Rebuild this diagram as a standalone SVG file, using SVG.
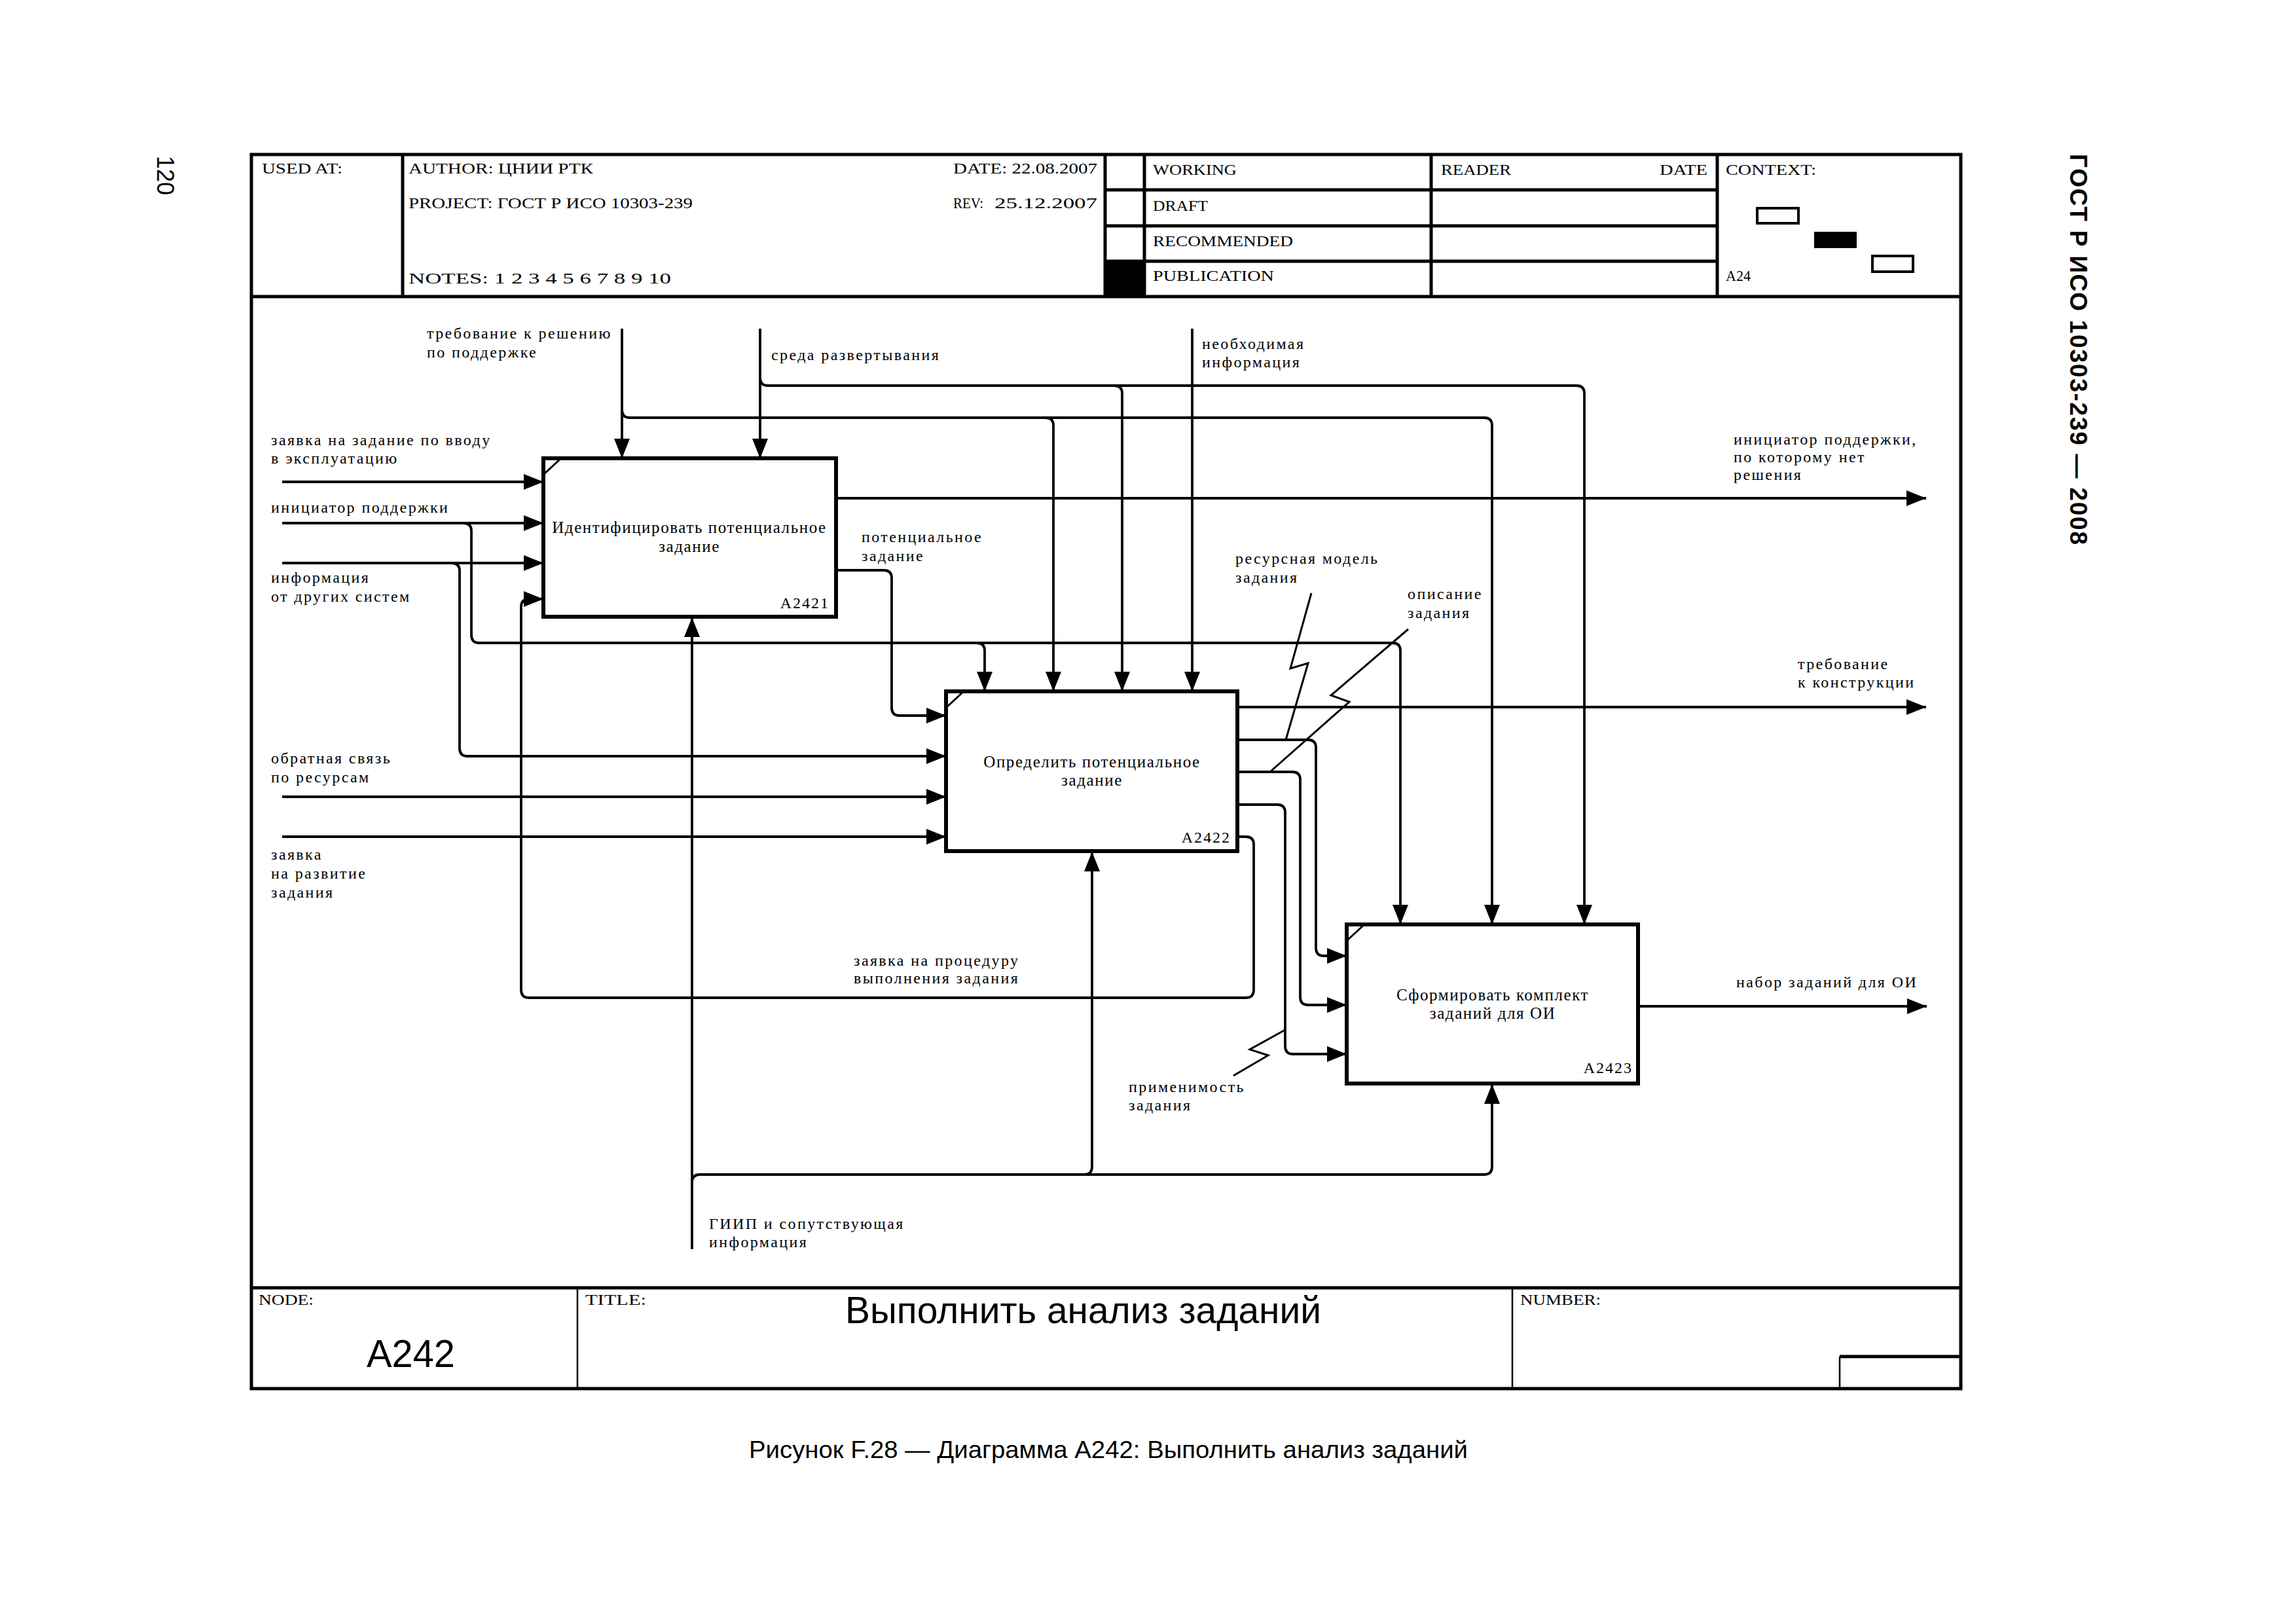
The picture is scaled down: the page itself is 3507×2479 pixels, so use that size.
<svg xmlns="http://www.w3.org/2000/svg" width="3507" height="2479" viewBox="0 0 3507 2479">
<style>
.hdr{font-family:"Liberation Serif",serif;font-size:24px;fill:#000}
.lbl{font-family:"Liberation Serif",serif;font-size:24px;letter-spacing:2.4px;fill:#000}
.bt{font-family:"Liberation Serif",serif;font-size:25px;letter-spacing:1.6px;fill:#000;text-anchor:middle}
.num{font-family:"Liberation Serif",serif;font-size:24px;letter-spacing:2px;fill:#000;text-anchor:end}
.sans{font-family:"Liberation Sans",Arial,sans-serif;fill:#000}
.frame{fill:none;stroke:#000;stroke-width:5}
.thin{fill:none;stroke:#000;stroke-width:2.5}
.box{fill:#fff;stroke:#000;stroke-width:6}
.tick{stroke:#000;stroke-width:3;fill:none}
.conn{fill:none;stroke:#000;stroke-width:3.8}
.bolt{fill:none;stroke:#000;stroke-width:3;stroke-linejoin:miter}
</style>
<defs>
<marker id="ah" markerUnits="userSpaceOnUse" markerWidth="30" markerHeight="24" refX="30" refY="12" orient="auto">
<path d="M0,0 L30,12 L0,24 z" fill="#000"/>
</marker>
</defs>
<rect x="0" y="0" width="3507" height="2479" fill="#fff"/>

<!-- side texts -->
<text class="sans" font-size="36" transform="translate(240,238) rotate(90)">120</text>
<text class="sans" font-size="37" font-weight="bold" textLength="597" transform="translate(3162,235) rotate(90)">ГОСТ Р ИСО 10303-239 — 2008</text>

<!-- frame and header -->
<g id="frame">
<rect class="frame" x="384" y="236" width="2611" height="1885"/>
<line class="frame" x1="384" y1="453" x2="2995" y2="453"/>
<line class="frame" x1="615" y1="236" x2="615" y2="453"/>
<line class="frame" x1="1688" y1="236" x2="1688" y2="453"/>
<line class="frame" x1="1748" y1="236" x2="1748" y2="453"/>
<line class="frame" x1="2186" y1="236" x2="2186" y2="453"/>
<line class="frame" x1="2623" y1="236" x2="2623" y2="453"/>
<line class="frame" x1="1688" y1="290" x2="2623" y2="290"/>
<line class="frame" x1="1688" y1="345" x2="2623" y2="345"/>
<line class="frame" x1="1688" y1="399" x2="2623" y2="399"/>
<rect x="1688" y="399" width="60" height="54" fill="#000"/>
<rect x="2684" y="318" width="63" height="23" fill="#fff" stroke="#000" stroke-width="4"/>
<rect x="2771" y="354" width="65" height="25" fill="#000"/>
<rect x="2860" y="391" width="62" height="24" fill="#fff" stroke="#000" stroke-width="4"/>
<text class="hdr" x="400" y="265" textLength="123" lengthAdjust="spacingAndGlyphs">USED AT:</text>
<text class="hdr" x="624" y="265" textLength="282" lengthAdjust="spacingAndGlyphs">AUTHOR: ЦНИИ РТК</text>
<text class="hdr" x="1456" y="265" textLength="220" lengthAdjust="spacingAndGlyphs">DATE: 22.08.2007</text>
<text class="hdr" x="624" y="318" textLength="434" lengthAdjust="spacingAndGlyphs">PROJECT: ГОСТ Р ИСО 10303-239</text>
<text class="hdr" x="1456" y="318" textLength="46" lengthAdjust="spacingAndGlyphs">REV:</text>
<text class="hdr" x="1519" y="318" textLength="157" lengthAdjust="spacingAndGlyphs">25.12.2007</text>
<text class="hdr" x="624" y="433" textLength="401" lengthAdjust="spacingAndGlyphs">NOTES: 1 2 3 4 5 6 7 8 9 10</text>
<text class="hdr" x="1761" y="267" textLength="128" lengthAdjust="spacingAndGlyphs">WORKING</text>
<text class="hdr" x="1761" y="322" textLength="84" lengthAdjust="spacingAndGlyphs">DRAFT</text>
<text class="hdr" x="1761" y="376" textLength="214" lengthAdjust="spacingAndGlyphs">RECOMMENDED</text>
<text class="hdr" x="1761" y="429" textLength="185" lengthAdjust="spacingAndGlyphs">PUBLICATION</text>
<text class="hdr" x="2201" y="267" textLength="107" lengthAdjust="spacingAndGlyphs">READER</text>
<text class="hdr" x="2535" y="267" textLength="73" lengthAdjust="spacingAndGlyphs">DATE</text>
<text class="hdr" x="2636" y="267" textLength="138" lengthAdjust="spacingAndGlyphs">CONTEXT:</text>
<text class="hdr" x="2636" y="429" textLength="38" lengthAdjust="spacingAndGlyphs">A24</text>
<!-- title block -->
<line class="frame" x1="384" y1="1967" x2="2995" y2="1967"/>
<line class="thin" x1="882" y1="1967" x2="882" y2="2121"/>
<line class="thin" x1="2310" y1="1967" x2="2310" y2="2121"/>
<line class="frame" x1="2810" y1="2072" x2="2995" y2="2072"/>
<line class="thin" x1="2810" y1="2072" x2="2810" y2="2121"/>
<text class="hdr" x="395" y="1993" font-size="22" textLength="84" lengthAdjust="spacingAndGlyphs">NODE:</text>
<text class="hdr" x="894" y="1993" font-size="22" textLength="93" lengthAdjust="spacingAndGlyphs">TITLE:</text>
<text class="hdr" x="2322" y="1993" font-size="22" textLength="123" lengthAdjust="spacingAndGlyphs">NUMBER:</text>
<text class="sans" x="560" y="2088" font-size="60" textLength="135" lengthAdjust="spacingAndGlyphs">A242</text>
<text class="sans" x="1291" y="2021" font-size="58" textLength="727" lengthAdjust="spacingAndGlyphs">Выполнить анализ заданий</text>
</g>

<text class="sans" x="1144" y="2227" font-size="36" textLength="1098" lengthAdjust="spacingAndGlyphs">Рисунок F.28 — Диаграмма A242: Выполнить анализ заданий</text>

<!-- connectors -->
<g id="connectors">
<path class="conn" d="M431,736 H830" marker-end="url(#ah)"/>
<path class="conn" d="M431,799 H830" marker-end="url(#ah)"/>
<path class="conn" d="M708,799 Q720,799 720,811 V970 Q720,982 732,982 H2127 Q2139,982 2139,994 V1412" marker-end="url(#ah)"/>
<path class="conn" d="M1492,982 Q1504,982 1504,994 V1056" marker-end="url(#ah)"/>
<path class="conn" d="M431,860 H830" marker-end="url(#ah)"/>
<path class="conn" d="M690,860 Q702,860 702,872 V1143 Q702,1155 714,1155 H1445" marker-end="url(#ah)"/>
<path class="conn" d="M1890,1278 H1903 Q1915,1278 1915,1290 V1512 Q1915,1524 1903,1524 H808 Q796,1524 796,1512 V927 Q796,915 808,915 H830" marker-end="url(#ah)"/>
<path class="conn" d="M950,502 V700" marker-end="url(#ah)"/>
<path class="conn" d="M950,626 Q950,638 962,638 H2267 Q2279,638 2279,650 V1412" marker-end="url(#ah)"/>
<path class="conn" d="M1597,638 Q1609,638 1609,650 V1056" marker-end="url(#ah)"/>
<path class="conn" d="M1161,502 V700" marker-end="url(#ah)"/>
<path class="conn" d="M1161,577 Q1161,589 1173,589 H2408 Q2420,589 2420,601 V1412" marker-end="url(#ah)"/>
<path class="conn" d="M1702,589 Q1714,589 1714,601 V1056" marker-end="url(#ah)"/>
<path class="conn" d="M1821,502 V1056" marker-end="url(#ah)"/>
<path class="conn" d="M1277,761 H2942" marker-end="url(#ah)"/>
<path class="conn" d="M1277,871 H1350 Q1362,871 1362,883 V1081 Q1362,1093 1374,1093 H1445" marker-end="url(#ah)"/>
<path class="conn" d="M1890,1080 H2942" marker-end="url(#ah)"/>
<path class="conn" d="M1890,1130 H1998 Q2010,1130 2010,1142 V1448 Q2010,1460 2022,1460 H2057" marker-end="url(#ah)"/>
<path class="conn" d="M1890,1179 H1974 Q1986,1179 1986,1191 V1523 Q1986,1535 1998,1535 H2057" marker-end="url(#ah)"/>
<path class="conn" d="M1890,1229 H1951 Q1963,1229 1963,1241 V1598 Q1963,1610 1975,1610 H2057" marker-end="url(#ah)"/>
<path class="conn" d="M431,1217 H1445" marker-end="url(#ah)"/>
<path class="conn" d="M431,1278 H1445" marker-end="url(#ah)"/>
<path class="conn" d="M2502,1537 H2943" marker-end="url(#ah)"/>
<path class="conn" d="M1057,1908 V943" marker-end="url(#ah)"/>
<path class="conn" d="M1057,1806 Q1057,1794 1069,1794 H2267 Q2279,1794 2279,1782 V1656" marker-end="url(#ah)"/>
<path class="conn" d="M1656,1794 Q1668,1794 1668,1782 V1301" marker-end="url(#ah)"/>
<polyline class="bolt" points="2003,906 1971,1021 1998,1013 1964,1130"/>
<polyline class="bolt" points="2151,961 2033,1062 2061,1072 1941,1178"/>
<polyline class="bolt" points="1884,1643 1937,1612 1909,1603 1963,1573"/>
</g>

<!-- labels -->
<g id="labels">
<text class="lbl" x="652" y="517">требование к решению</text>
<text class="lbl" x="652" y="546">по поддержке</text>
<text class="lbl" x="1178" y="550">среда развертывания</text>
<text class="lbl" x="1836" y="533">необходимая</text>
<text class="lbl" x="1836" y="561">информация</text>
<text class="lbl" x="414" y="680">заявка на задание по вводу</text>
<text class="lbl" x="414" y="708">в эксплуатацию</text>
<text class="lbl" x="414" y="783">инициатор поддержки</text>
<text class="lbl" x="414" y="890">информация</text>
<text class="lbl" x="414" y="919">от других систем</text>
<text class="lbl" x="414" y="1166">обратная связь</text>
<text class="lbl" x="414" y="1195">по ресурсам</text>
<text class="lbl" x="414" y="1313">заявка</text>
<text class="lbl" x="414" y="1342">на развитие</text>
<text class="lbl" x="414" y="1371">задания</text>
<text class="lbl" x="1316" y="828">потенциальное</text>
<text class="lbl" x="1316" y="857">задание</text>
<text class="lbl" x="1887" y="861">ресурсная модель</text>
<text class="lbl" x="1887" y="890">задания</text>
<text class="lbl" x="2150" y="915">описание</text>
<text class="lbl" x="2150" y="944">задания</text>
<text class="lbl" x="2648" y="679">инициатор поддержки,</text>
<text class="lbl" x="2648" y="706">по которому нет</text>
<text class="lbl" x="2648" y="733">решения</text>
<text class="lbl" x="2746" y="1022">требование</text>
<text class="lbl" x="2746" y="1050">к конструкции</text>
<text class="lbl" x="1304" y="1475">заявка на процедуру</text>
<text class="lbl" x="1304" y="1502">выполнения задания</text>
<text class="lbl" x="1724" y="1668">применимость</text>
<text class="lbl" x="1724" y="1696">задания</text>
<text class="lbl" x="1083" y="1877">ГИИП и сопутствующая</text>
<text class="lbl" x="1083" y="1905">информация</text>
<text class="lbl" x="2652" y="1508">набор заданий для ОИ</text>
</g>

<!-- nodes -->
<g id="A2421">
<rect class="box" x="830" y="700" width="447" height="242"/>
<line class="tick" x1="830" y1="725" x2="857" y2="700"/>
<text class="bt" x="1053" y="814">Идентифицировать потенциальное</text>
<text class="bt" x="1053" y="843">задание</text>
<text class="num" x="1267" y="929">A2421</text>
</g>
<g id="A2422">
<rect class="box" x="1445" y="1056" width="445" height="244"/>
<line class="tick" x1="1445" y1="1081" x2="1472" y2="1056"/>
<text class="bt" x="1668" y="1172">Определить потенциальное</text>
<text class="bt" x="1668" y="1200">задание</text>
<text class="num" x="1880" y="1287">A2422</text>
</g>
<g id="A2423">
<rect class="box" x="2057" y="1412" width="445" height="243"/>
<line class="tick" x1="2057" y1="1437" x2="2084" y2="1412"/>
<text class="bt" x="2280" y="1528">Сформировать комплект</text>
<text class="bt" x="2280" y="1556">заданий для ОИ</text>
<text class="num" x="2494" y="1639">A2423</text>
</g>
</svg>
